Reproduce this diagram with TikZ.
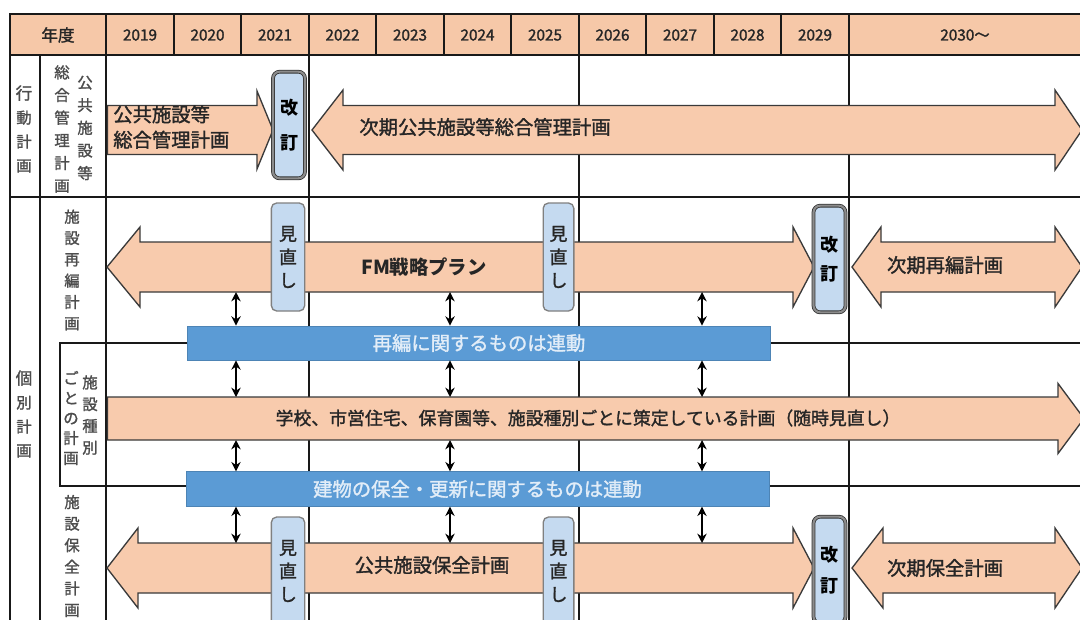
\documentclass[tikz,border=0pt]{standalone}
\usepackage{fontspec}
\setmainfont{Noto Sans CJK JP}
\newfontfamily\medfont{Noto Sans CJK JP}[FakeBold=1.5]
\usetikzlibrary{arrows.meta}
\definecolor{peach}{HTML}{F8CBAD}
\definecolor{hdr}{HTML}{F6C8A8}
\definecolor{ltblue}{HTML}{C5DAF0}
\definecolor{barblue}{HTML}{5B9BD5}
\definecolor{bartext}{HTML}{E2EDF8}
\definecolor{txt}{HTML}{262626}
\definecolor{lbl}{HTML}{4D4D4D}
\definecolor{outl}{HTML}{3A3A3A}
\newcommand\dblArrow[7]{% left tip, left base, right base, right tip, ymid, shaft half, head half
  \draw[blk] (#1,#5) -- (#2,#5-#7) -- (#2,#5-#6) -- (#3,#5-#6) -- (#3,#5-#7) -- (#4,#5)
    -- (#3,#5+#7) -- (#3,#5+#6) -- (#2,#5+#6) -- (#2,#5+#7) -- cycle;}
\newcommand\rgtArrow[6]{% left x, right base, right tip, ymid, shaft half, head half
  \draw[blk] (#1,#4-#5) -- (#2,#4-#5) -- (#2,#4-#6) -- (#3,#4) -- (#2,#4+#6) -- (#2,#4+#5)
    -- (#1,#4+#5) -- cycle;}
\tikzset{
  grid/.style={line width=1.4pt, draw=black!90},
  blk/.style={fill=peach, draw=outl, line width=1pt, line join=miter},
  hdrtext/.style={font=\medfont\fontsize{11.5}{13}\selectfont, text=txt},
  vlab/.style={align=center, text=lbl, inner sep=0pt, font=\medfont\fontsize{11.5}{#1}\selectfont},
  arrtext/.style={text=txt, font=\medfont\fontsize{14.5}{19}\selectfont, inner sep=0pt},
  review/.style={draw=black!50, fill=ltblue, rounded corners=4pt, line width=1pt,
    minimum width=25pt, minimum height=81pt, inner sep=0pt, align=center, text=txt,
    font=\medfont\fontsize{13.5}{17.5}\selectfont},
  kaitei/.style={draw=black!80, double=black!45, double distance=1.6pt, fill=ltblue,
    rounded corners=5pt, line width=0.6pt, minimum width=24pt, minimum height=80pt,
    inner sep=0pt, align=center, text=black, font=\fontsize{13.5}{#1}\selectfont\bfseries},
  bar/.style={fill=barblue, draw=barblue!85!black, line width=0.5pt, text=bartext,
    inner sep=0pt, font=\medfont\fontsize{14.5}{17}\selectfont},
  conn/.style={{Stealth[length=7pt,width=7pt]}-{Stealth[length=7pt,width=7pt]}, line width=1.8pt, draw=black}
}
\begin{document}
\begin{tikzpicture}[x=0.75pt,y=-0.75pt]
\useasboundingbox (0,0) rectangle (1080,619);
\fill[white] (0,0) rectangle (1080,619);
% header
\filldraw[grid, fill=hdr] (10,14) rectangle (1090,55);
\foreach \gx in {106,174,241,309,376,444,511,579,646,714,781,849}
  \draw[grid] (\gx,14) -- (\gx,55);
\node[hdrtext, font=\medfont\fontsize{12.5}{14}\selectfont] (nendo) at (58,35) {年度};
\foreach \yr/\cx in {2019/140,2020/207.5,2021/275,2022/342.5,2023/410,2024/477.5,2025/545,2026/612.5,2027/680,2028/747.5,2029/815}
  \node[hdrtext] (y\yr) at (\cx,35) {\yr};
\node[hdrtext] (y2030) at (965,35) {2030～};
% grid body
\foreach \gx in {10,40,106,309,579,849}
  \draw[grid] (\gx,55) -- (\gx,630);
\draw[grid] (10,197) -- (1090,197);
\draw[grid] (1090,343) -- (60,343) -- (60,486) -- (1090,486);
% side labels
\node[vlab=18] (lk) at (24,129) {\fontsize{12.5}{18}\selectfont 行\\動\\計\\画};
\node[vlab=17] (lsogo) at (62,129) {総\\合\\管\\理\\計\\画};
\node[vlab=17] (lkoky) at (85,128) {公\\共\\施\\設\\等};
\node[vlab=16] (lsai) at (72,270) {施\\設\\再\\編\\計\\画};
\node[vlab=18] (lkobe) at (24,414) {\fontsize{12.5}{18}\selectfont 個\\別\\計\\画};
\node[vlab=15] (lgoto) at (71,418) {ご\\と\\の\\計\\画};
\node[vlab=16.3] (lshu) at (90,415) {施\\設\\種\\別};
\node[vlab=16.2] (lhoz) at (72,556) {施\\設\\保\\全\\計\\画};
% row 1 arrows
\rgtArrow{107.5}{257}{273}{130}{24.5}{39}
\dblArrow{312}{343}{1055}{1082}{130}{24.5}{40}
\node[arrtext, align=left, anchor=west] (t1) at (113,127) {公共施設等\\総合管理計画};
\node[arrtext] (t2) at (485,127) {次期公共施設等総合管理計画};
\node[kaitei=26] (k1) at (289,125) {改\\訂};
% row 2 arrows
\dblArrow{107}{140}{793}{814}{267}{25}{40}
\dblArrow{852}{881}{1055}{1082}{267}{25}{40}
\node[arrtext, font=\fontsize{14.5}{19}\selectfont\bfseries] (fm) at (424,267) {FM戦略プラン};
\node[arrtext] (t3) at (945,265) {次期再編計画};
\node[review] (r1) at (288,257) {見\\直\\し};
\node[review, minimum width=23pt] (r2) at (558.5,257) {見\\直\\し};
\node[kaitei=22] (k2) at (829.5,259) {改\\訂};
% school arrow
\rgtArrow{107.5}{1058}{1084}{418.5}{21.5}{35}
\node[arrtext, font=\medfont\fontsize{13.4}{17}\selectfont] (t4) at (588,418) {学校、市営住宅、保育園等、施設種別ごとに策定している計画（随時見直し）};
% row 3 arrows
\dblArrow{107}{138}{793}{814}{568}{25}{40}
\dblArrow{852}{883}{1055}{1082}{568}{25}{40}
\node[arrtext] (t5) at (432,565) {公共施設保全計画};
\node[arrtext] (t6) at (945,568) {次期保全計画};
\node[review] (r3) at (288,571) {見\\直\\し};
\node[review, minimum width=23pt] (r4) at (558.5,571) {見\\直\\し};
\node[kaitei=23] (k3) at (829.5,570) {改\\訂};
% blue bars
\node[bar, minimum width=437pt, minimum height=25.5pt] (bar1) at (479,343) {再編に関するものは連動};
\node[bar, minimum width=437pt, minimum height=26pt] (bar2) at (477.5,489) {建物の保全・更新に関するものは連動};
% connectors
\foreach \cx [count=\i] in {236,450,702} {
  \coordinate (a\i) at (\cx,292);
  \coordinate (b\i) at (\cx,397);
  \coordinate (c\i) at (\cx,440);
  \coordinate (d\i) at (\cx,543);
  \draw[conn] (a\i) -- (a\i |- bar1.north);
  \draw[conn] (b\i |- bar1.south) -- (b\i);
  \draw[conn] (c\i) -- (c\i |- bar2.north);
  \draw[conn] (d\i |- bar2.south) -- (d\i);
}
\end{tikzpicture}
\end{document}
